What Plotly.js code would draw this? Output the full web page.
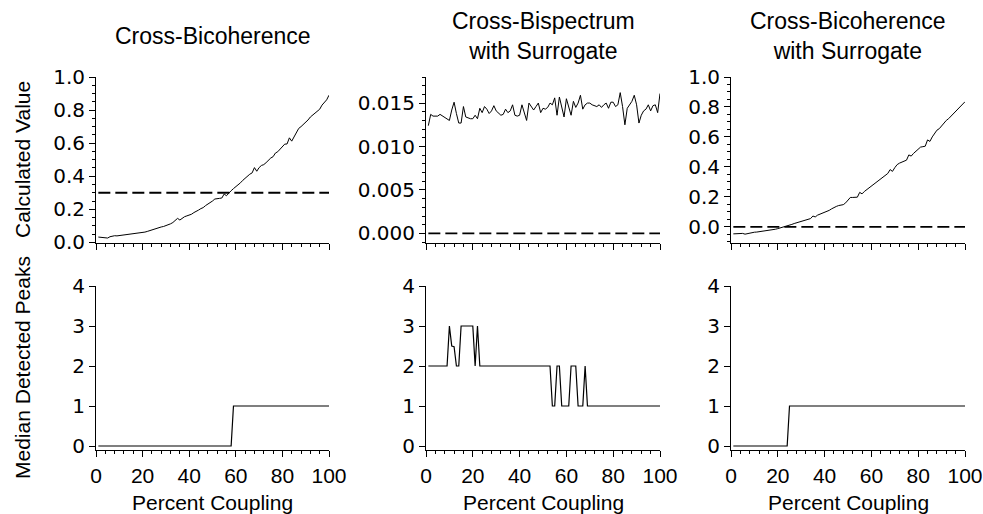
<!DOCTYPE html>
<html><head><meta charset="utf-8">
<script src="https://cdn.plot.ly/plotly-3.0.1.min.js"></script>
<style>html,body{margin:0;padding:0;background:#fff}</style>
</head><body><div id="chart" style="width:983px;height:514px"></div>
<script>
const coupling = [1,2,3,4,5,6,7,8,9,10,11,12,13,14,15,16,17,18,19,20,21,22,23,24,25,26,27,28,29,30,31,32,33,34,35,36,37,38,39,40,41,42,43,44,45,46,47,48,49,50,51,52,53,54,55,56,57,58,59,60,61,62,63,64,65,66,67,68,69,70,71,72,73,74,75,76,77,78,79,80,81,82,83,84,85,86,87,88,89,90,91,92,93,94,95,96,97,98,99,100];

const bicoherence = [0.032,0.031,0.030,0.029,0.026,0.034,0.038,0.040,0.039,0.041,0.043,0.042,0.046,0.048,0.047,0.050,0.052,0.053,0.055,0.058,0.062,0.066,0.071,0.076,0.082,0.085,0.089,0.093,0.096,0.100,0.105,0.112,0.120,0.132,0.145,0.135,0.146,0.155,0.160,0.165,0.170,0.180,0.186,0.195,0.204,0.210,0.222,0.230,0.242,0.250,0.262,0.262,0.266,0.268,0.292,0.282,0.300,0.312,0.325,0.335,0.345,0.360,0.375,0.388,0.398,0.412,0.420,0.452,0.430,0.452,0.465,0.470,0.482,0.498,0.510,0.518,0.540,0.548,0.565,0.580,0.594,0.595,0.632,0.612,0.640,0.665,0.689,0.700,0.712,0.725,0.740,0.758,0.770,0.782,0.795,0.805,0.830,0.845,0.862,0.890];

const bispecSurrogate = [0.0124,0.0137,0.0135,0.0135,0.0135,0.0137,0.0135,0.0133,0.0132,0.0130,0.0142,0.0151,0.0138,0.0127,0.0127,0.0146,0.0134,0.0133,0.0132,0.0132,0.0136,0.0132,0.0144,0.0139,0.0146,0.0143,0.0138,0.0141,0.0147,0.0141,0.0138,0.0136,0.0137,0.0143,0.0139,0.0141,0.0148,0.0136,0.0135,0.0136,0.0148,0.0138,0.0130,0.0150,0.0146,0.0142,0.0146,0.0150,0.0139,0.0144,0.0143,0.0145,0.0150,0.0148,0.0156,0.0136,0.0157,0.0146,0.0134,0.0155,0.0145,0.0136,0.0152,0.0145,0.0150,0.0159,0.0143,0.0148,0.0150,0.0150,0.0148,0.0147,0.0146,0.0148,0.0145,0.0148,0.0150,0.0144,0.0151,0.0151,0.0146,0.0148,0.0162,0.0146,0.0125,0.0144,0.0148,0.0152,0.0159,0.0148,0.0127,0.0136,0.0141,0.0143,0.0148,0.0141,0.0147,0.0148,0.0139,0.0161];

const bicohSurrogate = [-0.047,-0.045,-0.043,-0.042,-0.044,-0.049,-0.045,-0.039,-0.036,-0.036,-0.035,-0.033,-0.031,-0.030,-0.028,-0.026,-0.022,-0.019,-0.016,-0.012,-0.008,-0.004,0.002,0.006,0.010,0.016,0.022,0.026,0.030,0.034,0.038,0.042,0.047,0.055,0.072,0.066,0.078,0.084,0.090,0.095,0.102,0.110,0.120,0.130,0.136,0.142,0.145,0.148,0.160,0.180,0.196,0.196,0.195,0.198,0.230,0.220,0.236,0.248,0.262,0.273,0.285,0.300,0.313,0.325,0.338,0.350,0.356,0.382,0.370,0.395,0.415,0.425,0.432,0.442,0.445,0.480,0.472,0.490,0.505,0.520,0.532,0.535,0.538,0.580,0.570,0.600,0.625,0.645,0.655,0.675,0.690,0.710,0.722,0.738,0.752,0.770,0.785,0.800,0.818,0.835];

const peaksBicoh = [0,0,0,0,0,0,0,0,0,0,0,0,0,0,0,0,0,0,0,0,0,0,0,0,0,0,0,0,0,0,0,0,0,0,0,0,0,0,0,0,0,0,0,0,0,0,0,0,0,0,0,0,0,0,0,0,0,0,1,1,1,1,1,1,1,1,1,1,1,1,1,1,1,1,1,1,1,1,1,1,1,1,1,1,1,1,1,1,1,1,1,1,1,1,1,1,1,1,1,1];

const peaksBispecSurr = [2,2,2,2,2,2,2,2,2,3,2.5,2.48,2,2,3,3,3,3,3,3,2,3,2,2,2,2,2,2,2,2,2,2,2,2,2,2,2,2,2,2,2,2,2,2,2,2,2,2,2,2,2,2,2,1,1,2,2,1,1,1,1,2,2,2,1,1,1,2,1,1,1,1,1,1,1,1,1,1,1,1,1,1,1,1,1,1,1,1,1,1,1,1,1,1,1,1,1,1,1,1];

const peaksBicohSurr = [0,0,0,0,0,0,0,0,0,0,0,0,0,0,0,0,0,0,0,0,0,0,0,0,1,1,1,1,1,1,1,1,1,1,1,1,1,1,1,1,1,1,1,1,1,1,1,1,1,1,1,1,1,1,1,1,1,1,1,1,1,1,1,1,1,1,1,1,1,1,1,1,1,1,1,1,1,1,1,1,1,1,1,1,1,1,1,1,1,1,1,1,1,1,1,1,1,1,1,1];

const thresholds = [0.30, 0.0, 0.0];
const panelTitles = ["Cross-Bicoherence", "Cross-Bispectrum<br>with Surrogate", "Cross-Bicoherence<br>with Surrogate"];
const xTickVals = [0,20,40,60,80,100];

const W = 983, H = 514;
const px = v => v / W;
const py = v => 1 - v / H;
const colX = [[96,329],[426,660],[731,965]];
const topY = [77,243], botY = [286,450];

const lineW = {color:'#000', width:1};
const dashStyle = {color:'#000', width:1.8, dash:'12px,5px'};
const traces = [];
const tops = [bicoherence, bispecSurrogate, bicohSurrogate];
const bots = [peaksBicoh, peaksBispecSurr, peaksBicohSurr];
for (let i=0;i<3;i++){
  const xa = 'x'+(i===0?'':(i+1)), ya='y'+(i===0?'':(i+1));
  traces.push({x:[coupling[0], coupling[coupling.length-1]], y:[thresholds[i], thresholds[i]], xaxis:xa, yaxis:ya, mode:'lines', line:dashStyle, hoverinfo:'skip'});
  traces.push({x:coupling, y:tops[i], xaxis:xa, yaxis:ya, mode:'lines', line:lineW});
  const xb = 'x'+(i+4), yb='y'+(i+4);
  traces.push({x:coupling, y:bots[i], xaxis:xb, yaxis:yb, mode:'lines', line:{color:'#000', width:1.2}});
}

const tickFont = {family:'Liberation Sans, Arial, sans-serif', size:21, color:'#000'};
const yTickFont = {family:'DejaVu Sans, sans-serif', size:20, color:'#000'};
function xAxis(i, labels, yanchor){
  return {domain:[px(colX[i][0]), px(colX[i][1])], range:[0,100], anchor:yanchor,
    showline:true, linecolor:'#000', linewidth:1, ticks:'outside', ticklen:6, tickwidth:1, tickcolor:'#000',
    tickvals:xTickVals, showticklabels:labels, tickfont:tickFont, showgrid:false, zeroline:false,
    minor:{dtick:4, tick0:0, ticks:'outside', ticklen:3, tickcolor:'#000', showgrid:false},
    ticklabelstandoff:1, fixedrange:true};
}
function yAxis(i, dom, range, dtick, fmt, minor, xanchor){
  const a = {domain:[py(dom[1]), py(dom[0])], range:range, anchor:xanchor,
    showline:true, linecolor:'#000', linewidth:1, ticks:'outside', ticklen:6, tickwidth:1, tickcolor:'#000',
    tick0:0, dtick:dtick, tickformat:fmt, tickfont:yTickFont, showgrid:false, zeroline:false, fixedrange:true};
  if (minor) a.minor = {dtick:minor, tick0:0, ticks:'outside', ticklen:3, tickcolor:'#000', showgrid:false};
  return a;
}

const layout = {
  width:W, height:H, margin:{l:0,r:0,t:0,b:0}, paper_bgcolor:'#fff', plot_bgcolor:'#fff', showlegend:false,
  xaxis: xAxis(0,false,'y'), xaxis2: xAxis(1,false,'y2'), xaxis3: xAxis(2,false,'y3'),
  xaxis4: xAxis(0,true,'y4'), xaxis5: xAxis(1,true,'y5'), xaxis6: xAxis(2,true,'y6'),
  yaxis: yAxis(0, topY, [-0.004,1.0], 0.2, '.1f', 0.05, 'x'),
  yaxis2: yAxis(1, topY, [-0.0011,0.018], 0.005, '.3f', 0.001, 'x2'),
  yaxis3: yAxis(2, topY, [-0.108,1.0], 0.2, '.1f', 0.05, 'x3'),
  yaxis4: yAxis(0, botY, [-0.1,4], 1, 'd', null, 'x4'),
  yaxis5: yAxis(1, botY, [-0.1,4], 1, 'd', null, 'x5'),
  yaxis6: yAxis(2, botY, [-0.1,4], 1, 'd', null, 'x6'),
  annotations: []
};
const titleFont = {family:'Liberation Sans, Arial, sans-serif', size:23, color:'#000'};
const axTitleFont = {family:'Liberation Sans, Arial, sans-serif', size:21, color:'#000'};
for (let i=0;i<3;i++){
  layout.annotations.push({text:panelTitles[i], xref:'paper', yref:'paper', x:px((colX[i][0]+colX[i][1])/2), y:py(36),
    xanchor:'center', yanchor:'middle', showarrow:false, font:titleFont});
  layout.annotations.push({text:'Percent Coupling', xref:'paper', yref:'paper', x:px((colX[i][0]+colX[i][1])/2), y:py(502),
    xanchor:'center', yanchor:'middle', showarrow:false, font:axTitleFont});
}
layout.annotations.push({text:'Calculated Value', xref:'paper', yref:'paper', x:px(22), y:py((topY[0]+topY[1])/2),
  xanchor:'center', yanchor:'middle', textangle:-90, showarrow:false, font:axTitleFont});
layout.annotations.push({text:'Median Detected Peaks', xref:'paper', yref:'paper', x:px(22), y:py((botY[0]+botY[1])/2),
  xanchor:'center', yanchor:'middle', textangle:-90, showarrow:false, font:axTitleFont});

Plotly.newPlot('chart', traces, layout, {staticPlot:true, displayModeBar:false});
</script></body></html>
